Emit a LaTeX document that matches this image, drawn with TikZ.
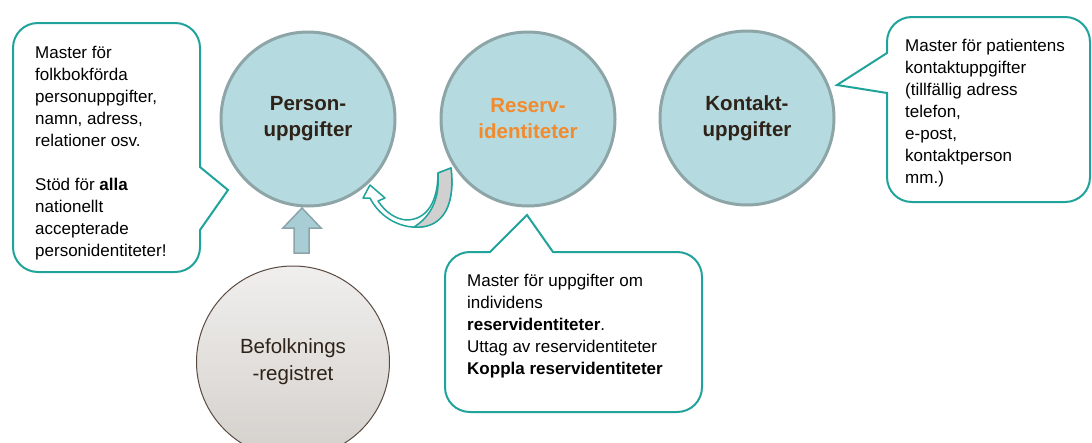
\documentclass[tikz,border=0pt]{standalone}
\usepackage{fontspec}
\setmainfont{Liberation Sans}
\usetikzlibrary{shapes.geometric}
\definecolor{tealline}{HTML}{20A39B}
\definecolor{circfill}{HTML}{B5DBE0}
\definecolor{circline}{HTML}{8EA5A8}
\definecolor{darktext}{HTML}{2E2219}
\definecolor{orangetext}{HTML}{F28A2E}
\definecolor{arrowfill}{HTML}{A9CDD5}
\definecolor{arrowline}{HTML}{8AA4A9}
\definecolor{ribbongray}{HTML}{D0D0D0}
\definecolor{befline}{HTML}{5A4A40}
\definecolor{beftop}{HTML}{F0EFED}
\definecolor{befbottom}{HTML}{D4D0CC}
\tikzset{
  circ/.style={circle, draw=circline, line width=3pt, fill=circfill, minimum size=174pt, inner sep=0pt,
    align=center, font=\fontsize{20.5}{26}\selectfont\bfseries, text=darktext},
  callout/.style={draw=tealline, line width=2pt, fill=white, line join=miter},
  callouttext/.style={anchor=north west, align=left, inner sep=0pt, font=\fontsize{17}{22}\selectfont, text=black},
}
\begin{document}
\begin{tikzpicture}[x=1pt,y=-1pt]
\useasboundingbox (0,0) rectangle (1092,442);

% circles
\node[circ] (person) at (308,119) {Person-\\uppgifter};
\node[circ, text=orangetext] (reserv) at (528,119) {Reserv-\\identiteter};
\node[circ] (kontakt) at (747,118) {Kontakt-\\uppgifter};
\node[ellipse, draw=befline, line width=1pt, top color=beftop, bottom color=befbottom,
  minimum width=193pt, minimum height=192pt, inner sep=0pt, align=center,
  font=\fontsize{20.5}{27}\selectfont, text=darktext] (bef) at (293,362) {Befolknings\\-registret};

% up arrow
\draw[fill=arrowfill, draw=arrowline, line width=1.5pt, line join=miter]
  (302,208) -- (321,228) -- (309,228) -- (309,253) -- (294,253) -- (294,228) -- (283,228) -- cycle;

% curved arrow
\draw[tealline, line width=1.5pt, fill=white, line join=round]
  (438,173) -- (451,168)
  .. controls (456,212) and (438,229) .. (412,227)
  .. controls (392,225) and (377,212) .. (370,198)
  -- (363,198) -- (370,185) -- (385,198) -- (378,201)
  .. controls (386,213) and (396,219) .. (406,220)
  .. controls (428,220) and (438,200) .. (438,173) -- cycle;
\draw[tealline, line width=1.5pt, fill=ribbongray, line join=round]
  (438,173) -- (451,168)
  .. controls (456,212) and (438,229) .. (414,227)
  .. controls (430,217) and (440,200) .. (438,173) -- cycle;

% callout 1
\draw[callout] (38,23) -- (175,23) .. controls (189,23) and (200,34) .. (200,48)
  -- (200,167) -- (228,190) -- (200,230) -- (200,247)
  .. controls (200,261) and (189,272) .. (175,272) -- (38,272)
  .. controls (24,272) and (13,261) .. (13,247) -- (13,48)
  .. controls (13,34) and (24,23) .. (38,23) -- cycle;
\node[callouttext] (t1) at (35,45.5) {Master för\\folkbokförda\\personuppgifter,\\namn, adress,\\relationer osv.\\[22pt]Stöd för \textbf{alla}\\nationellt\\accepterade\\personidentiteter!};

% callout 2
\draw[callout] (470,252) -- (490,252) -- (527,215) -- (553,252) -- (677,252)
  .. controls (691,252) and (702,263) .. (702,277) -- (702,387)
  .. controls (702,401) and (691,412) .. (677,412) -- (470,412)
  .. controls (456,412) and (445,401) .. (445,387) -- (445,277)
  .. controls (445,263) and (456,252) .. (470,252) -- cycle;
\node[callouttext] (t2) at (467,273.5) {Master för uppgifter om\\individens\\\textbf{reservidentiteter}.\\Uttag av reservidentiteter\\\textbf{Koppla reservidentiteter}};

% callout 3
\draw[callout] (912,17) -- (1065,17) .. controls (1079,17) and (1090,28) .. (1090,42)
  -- (1090,177) .. controls (1090,191) and (1079,202) .. (1065,202) -- (912,202)
  .. controls (898,202) and (887,191) .. (887,177) -- (887,93) -- (837,85) -- (887,53)
  -- (887,42) .. controls (887,28) and (898,17) .. (912,17) -- cycle;
\node[callouttext] (t3) at (905,38.5) {Master för patientens\\kontaktuppgifter\\(tillfällig adress\\telefon,\\e-post,\\kontaktperson\\mm.)};
\end{tikzpicture}
\end{document}
